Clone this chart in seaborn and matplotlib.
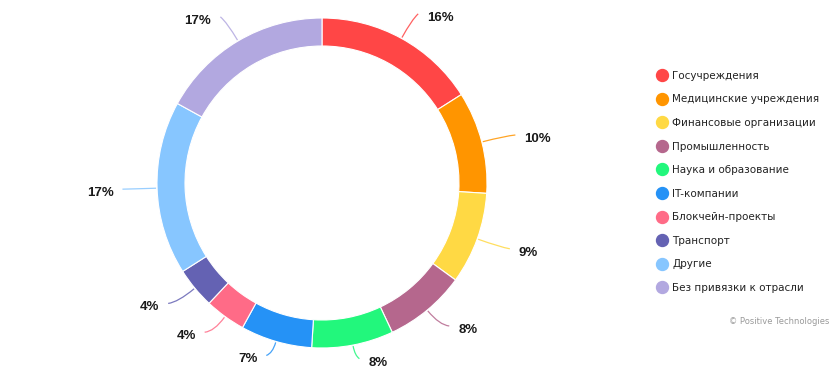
import numpy as np
import matplotlib
matplotlib.use("Agg")
import matplotlib.pyplot as plt
from matplotlib.path import Path
from matplotlib.patches import PathPatch
from matplotlib.lines import Line2D
import seaborn as sns

# ---- data ----
categories = ["Госучреждения", "Медицинские учреждения", "Финансовые организации",
              "Промышленность", "Наука и образование", "IT-компании",
              "Блокчейн-проекты", "Транспорт", "Другие", "Без привязки к отрасли"]
shares = [16, 10, 9, 8, 8, 7, 4, 4, 17, 17]
pct_labels = [f"{v}%" for v in shares]
colors = ["#FF4646", "#FF9500", "#FFD944", "#B5678D", "#22F77C",
          "#2592F6", "#FF6B87", "#6462B3", "#87C6FF", "#B2A8E0"]
footer = "© Positive Technologies"

sns.set_theme(style="white")
plt.rcParams["font.family"] = ["DejaVu Sans"]

W, H = 837, 372
fig = plt.figure(figsize=(W / 100, H / 100), dpi=100)
ax = fig.add_axes([0, 0, 1, 1])

cx, cy, R, ring = 322, H - 183, 165, 28
wedges, _ = ax.pie(shares, colors=colors, startangle=90, counterclock=False,
                   radius=R, center=(cx, cy),
                   wedgeprops=dict(width=ring, edgecolor="white", linewidth=0.8))
ax.set_xlim(0, W)
ax.set_ylim(0, H)
ax.set_aspect("equal")
ax.axis("off")

# ---- percentage labels with curved connectors ----
for w, lab, col in zip(wedges, pct_labels, colors):
    mid = np.deg2rad((w.theta1 + w.theta2) / 2)
    ux, uy = np.cos(mid), np.sin(mid)
    sx, sy = cx + (R + 1) * ux, cy + (R + 1) * uy
    ry = 1.17 * R if uy >= 0 else R * (1.19 - 0.11 * uy ** 2)
    ex, ey = cx + 1.21 * R * ux, cy + ry * uy
    dist = np.hypot(ex - sx, ey - sy)
    t = (ey - sy) / uy if abs(uy) > 1e-6 else 0.5 * dist
    t = float(np.clip(t, 0.3 * dist, 0.7 * dist))
    ctrl = (sx + t * ux, sy + t * uy)
    path = Path([(sx, sy), ctrl, (ex, ey)], [Path.MOVETO, Path.CURVE3, Path.CURVE3])
    ax.add_patch(PathPatch(path, fc="none", ec=col, lw=0.9, alpha=0.85))
    side = 1 if ux >= 0 else -1
    ax.text(ex + side * 9, ey - 4, lab, ha="left" if side > 0 else "right",
            va="center", fontsize=9.5, fontweight="bold",
            family=["Liberation Sans", "DejaVu Sans"], color="#1a1a1a")

# ---- legend ----
handles = [Line2D([], [], marker="o", ls="none", markersize=8.6,
                  markerfacecolor=c, markeredgecolor=c) for c in colors]
fig.legend(handles, categories, loc="upper left",
           bbox_to_anchor=(656.4 / W, (H - 70.9) / H), frameon=False,
           fontsize=7.5, labelspacing=1.30, handlelength=1.0, handletextpad=0.5,
           borderpad=0, borderaxespad=0, labelcolor="#222222")

ax.text(829, H - 322, footer, ha="right", va="center", fontsize=6, color="#9a9a9a")

fig.savefig("out.png", dpi=100)
